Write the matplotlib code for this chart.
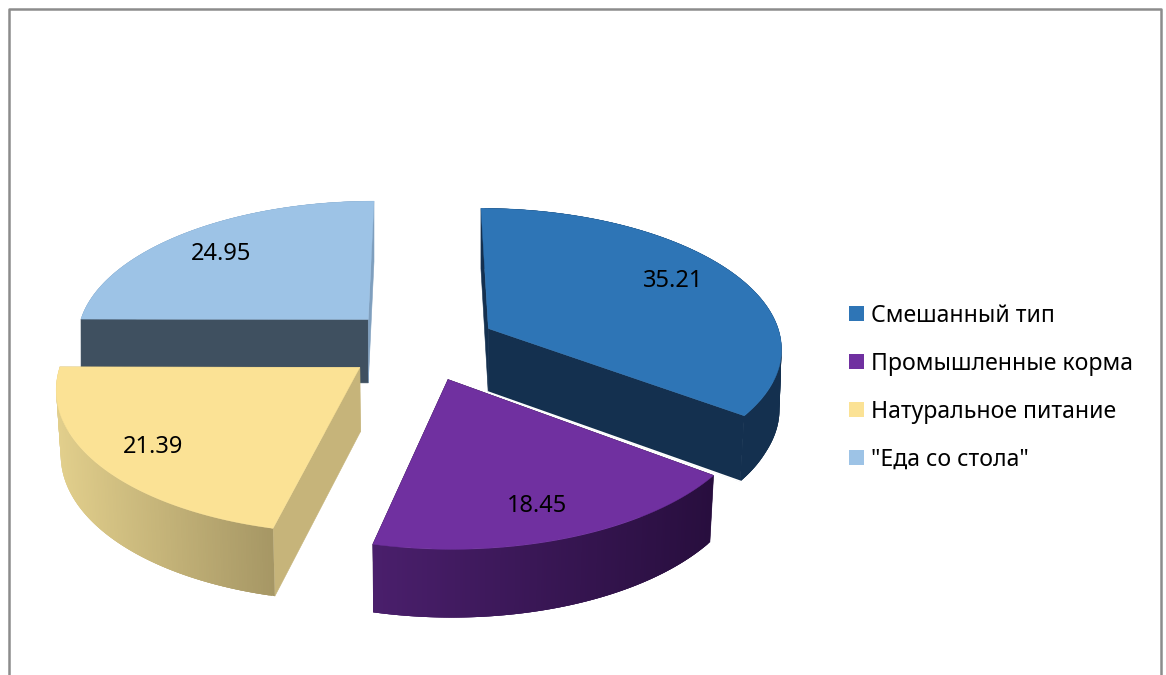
import numpy as np
import matplotlib
matplotlib.use("Agg")
import matplotlib.pyplot as plt
from matplotlib.colors import to_rgb
from matplotlib.patches import Polygon, Rectangle

categories = ["Смешанный тип", "Промышленные корма", "Натуральное питание", '"Еда со стола"']
values = [35.21, 18.45, 21.39, 24.95]
top_colors = ["#2e75b6", "#7030a0", "#fbe295", "#9dc3e6"]
wall_left = ["#14304f", "#4a1f6c", "#e2cf8c", "#7f9fbe"]
wall_right = ["#14304f", "#280e3e", "#a69765", "#7f9fbe"]
start_face = ["#14304f", "#2a1042", "#c6b47a", "#3f5060"]
end_face = ["#14304f", "#2a1042", "#c6b47a", "#7f9fbe"]

# 3d pie projection settings, in pixels
cx, cy = 421, 344.5
a, b = 294, 139
persp = 0.125
depth = 64
depth_persp = 0.05
taper = 0.0125
explode = 0.26
start = 0.0
label_r = 0.8
label_dx = [-11, -6, -2, 1]
label_dy = [-1, 3, 3, 5]


def project(u, v, z=0.0):
    s = 1 / (1 - persp * v)
    # verticals lean in a little towards the near side
    k = 1 - taper * z * np.clip(2 * (v + 0.2), 0, 1)
    return cx + a * u * s * k, cy + b * v * s + depth * z / (1 - depth_persp * v)


plt.rcParams["font.family"] = ["Noto Sans", "DejaVu Sans"]
fig = plt.figure(figsize=(11.66, 6.75), dpi=100)
ax = fig.add_axes([0, 0, 1, 1])
ax.set_xlim(0, 1166)
ax.set_ylim(675, 0)
ax.axis("off")

# chart border, open at the bottom
ax.plot([9, 9, 1161, 1161], [675, 8.5, 8.5, 675], color="#8c8c8c", lw=1.8)

angles = np.cumsum([0] + values) / sum(values) * 360 + start


def draw_wall(i, ru, rv, idx, lo, hi):
    # overlapping strips, so no seams show in the horizontal gradient
    c0, c1 = np.array(to_rgb(wall_left[i])), np.array(to_rgb(wall_right[i]))
    xs = project(ru, rv)[0]
    for j in idx:
        k = min(j + 3, len(ru) - 1)
        f = np.clip((xs[j] - lo) / (hi - lo), 0, 1)
        p = [project(ru[j], rv[j]), project(ru[k], rv[k]), project(ru[k], rv[k], 1), project(ru[j], rv[j], 1)]
        ax.add_patch(Polygon(p, facecolor=c0 + (c1 - c0) * f, edgecolor="none"))


def draw_slice(i):
    t0, t1 = np.radians(angles[i]), np.radians(angles[i + 1])
    mid = (t0 + t1) / 2
    ou, ov = explode * np.sin(mid), -explode * np.cos(mid)
    th = np.linspace(t0, t1, 160)
    ru, rv = ou + np.sin(th), ov - np.cos(th)

    xs = project(ru, rv)[0]
    front = -np.cos(th) > 0
    lo, hi = xs.min(), xs.max()
    idx = np.arange(len(th) - 1)

    # back of the rim, then the cut faces, then the front of the rim
    draw_wall(i, ru, rv, idx[~front[:-1]], lo, hi)
    ax.add_patch(Polygon([project(ou, ov), project(ru[0], rv[0]), project(ru[0], rv[0], 1), project(ou, ov, 1)],
                         facecolor=start_face[i], edgecolor=start_face[i], lw=0.4))
    ax.add_patch(Polygon([project(ou, ov), project(ru[-1], rv[-1]), project(ru[-1], rv[-1], 1), project(ou, ov, 1)],
                         facecolor=end_face[i], edgecolor=end_face[i], lw=0.4))
    draw_wall(i, ru, rv, idx[front[:-1]], lo, hi)

    top = [project(ou, ov)] + list(zip(*project(ru, rv)))
    ax.add_patch(Polygon(top, facecolor=top_colors[i], edgecolor=top_colors[i], lw=0.3))

    if i == 0:
        bx, by = zip(project(ou, ov, 1), project(ru[-1], rv[-1], 1))
        ax.plot(bx, by, color="white", lw=1.2)

    lx, ly = project(ou + label_r * np.sin(mid), ov - label_r * np.cos(mid))
    ax.text(lx + label_dx[i], ly + label_dy[i], f"{values[i]:.2f}", ha="center", va="center",
            fontsize=17, color="black", zorder=5)


# back to front
for i in (3, 2, 1, 0):
    draw_slice(i)

# legend rows, evenly spaced
for i, name in enumerate(categories):
    row = 313.5 + 48 * i
    ax.add_patch(Rectangle((849, row - 7.5), 15, 15, facecolor=top_colors[i], edgecolor="none"))
    ax.text(871, row + 8.2, name, ha="left", va="baseline", fontsize=16.6, color="black")

fig.savefig("out.png", dpi=100)
